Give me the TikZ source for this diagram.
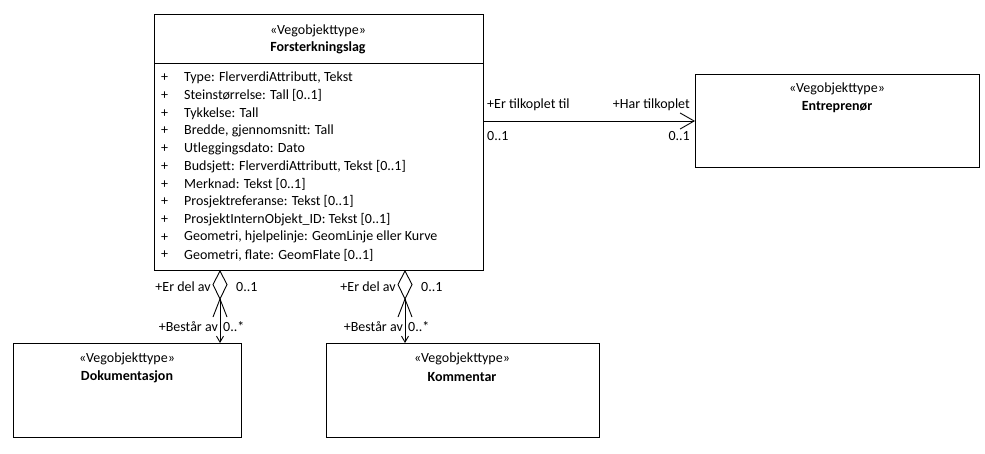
\documentclass[tikz,border=0pt]{standalone}
\usepackage{fontspec}
\setmainfont{Carlito}
\usetikzlibrary{arrows.meta}
\tikzset{
  cls/.style={draw, line width=1pt, anchor=north west, inner sep=0pt},
  txt/.style={inner sep=0pt, font=\fontsize{14}{16}\selectfont},
  btxt/.style={inner sep=0pt, font=\fontsize{14}{16}\selectfont\bfseries},
  attr/.style={txt, anchor=west},
  lbl/.style={txt},
  conn/.style={line width=0.9pt},
  bigbarb/.style={-{Straight Barb[length=14pt,width=16pt,line width=0.9pt]}},
  smallbarb/.style={-{Straight Barb[length=6pt,width=7pt,line width=0.9pt]}},
}
\begin{document}
\begin{tikzpicture}[x=1pt,y=-1pt]
\useasboundingbox (0,0) rectangle (985,453);
% main class
\node[cls, minimum width=329pt, minimum height=256pt] (main) at (154,14) {};
\draw[line width=1pt] (main.west |- 0,63) -- (main.east |- 0,63);
\node[txt] (mst) at (318,31) {«Vegobjekttype»};
\node[btxt] (mname) at (318,48) {Forsterkningslag};
\foreach \i/\t in {0/{Type: FlerverdiAttributt, Tekst},
  1/{Steinstørrelse: Tall [0..1]},
  2/{Tykkelse: Tall},
  3/{Bredde, gjennomsnitt: Tall},
  4/{Utleggingsdato: Dato},
  5/{Budsjett: FlerverdiAttributt, Tekst [0..1]},
  6/{Merknad: Tekst [0..1]},
  7/{Prosjektreferanse: Tekst [0..1]},
  8/{ProsjektInternObjekt\_ID: Tekst [0..1]},
  9/{Geometri, hjelpelinje: GeomLinje eller Kurve},
  10/{Geometri, flate: GeomFlate [0..1]}}{
  \node[attr] (p\i) at (161,{78+17.7*\i}) {+};
  \node[attr] (a\i) at (184,{78+17.7*\i}) {\t};
}
% Entreprenor
\node[cls, minimum width=284pt, minimum height=93pt] (ent) at (695,74) {};
\node[txt] (est) at (837,89) {«Vegobjekttype»};
\node[btxt] (ename) at (837,107) {Entreprenør};
% Dokumentasjon
\node[cls, minimum width=228pt, minimum height=94pt] (dok) at (13,343) {};
\node[txt] (dst) at (127,359) {«Vegobjekttype»};
\node[btxt] (dname) at (127,377) {Dokumentasjon};
% Kommentar
\node[cls, minimum width=273pt, minimum height=94pt] (kom) at (326,343) {};
\node[txt] (kst) at (462,359) {«Vegobjekttype»};
\node[btxt] (kname) at (462,377) {Kommentar};
% association to Entreprenor
\coordinate (e1) at (main.east |- 0,121);
\draw[conn, bigbarb] (e1) -- (ent.west |- e1);
\node[lbl, anchor=west] (l1) at (487,105) {+Er tilkoplet til};
\node[lbl, anchor=west] (l2) at (487,136) {0..1};
\node[lbl, anchor=east] (l3) at (690,105) {+Har tilkoplet};
\node[lbl, anchor=east] (l4) at (690,136) {0..1};
% aggregation 1
\coordinate (t1) at (main.south -| 220,0);
\coordinate (b1) at (220,299);
\draw[conn, fill=white] (t1) -- (227,284.5) -- (b1) -- (213,284.5) -- cycle;
\draw[conn] (213,317) -- (b1) -- (227,317);
\draw[conn, smallbarb] (b1) -- (dok.north -| b1);
\node[lbl, anchor=east] (g1) at (211,287) {+Er del av};
\node[lbl, anchor=west] (g2) at (236,287) {0..1};
\node[lbl, anchor=east] (g3) at (218,327) {+Består av};
\node[lbl, anchor=west] (g4) at (223,327) {0..*};
% aggregation 2
\coordinate (t2) at (main.south -| 405,0);
\coordinate (b2) at (405,299);
\draw[conn, fill=white] (t2) -- (412,284.5) -- (b2) -- (398,284.5) -- cycle;
\draw[conn] (398,317) -- (b2) -- (412,317);
\draw[conn, smallbarb] (b2) -- (kom.north -| b2);
\node[lbl, anchor=east] (h1) at (396,287) {+Er del av};
\node[lbl, anchor=west] (h2) at (421,287) {0..1};
\node[lbl, anchor=east] (h3) at (403,327) {+Består av};
\node[lbl, anchor=west] (h4) at (408,327) {0..*};
\end{tikzpicture}
\end{document}
